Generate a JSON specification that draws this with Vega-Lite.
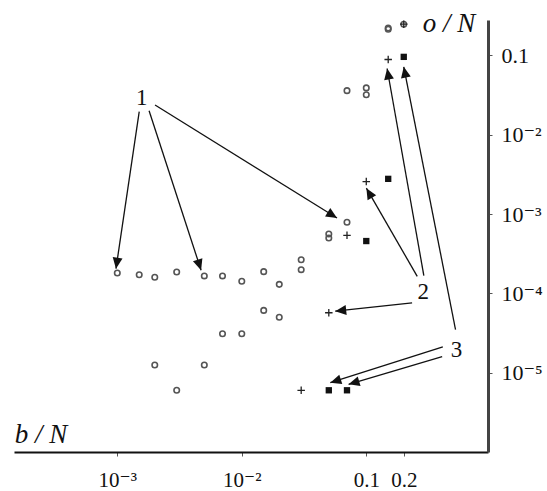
{
  "$schema": "https://vega.github.io/schema/vega-lite/v6.json",
  "width": 474,
  "height": 432,
  "autosize": "none",
  "padding": {"left": 14, "top": 20, "right": 59, "bottom": 39},
  "config": {
    "view": {"stroke": null},
    "font": "Liberation Serif",
    "axis": {"grid": false, "labelFont": "Liberation Serif, DejaVu Serif", "labelFontSize": 21, "labelColor": "#111", "tickColor": "#555", "tickSize": 4}
  },
  "datasets": {
    "points": [
      {"b": 0.001, "o": 0.000181, "kind": "circle"},
      {"b": 0.0015, "o": 0.000172, "kind": "circle"},
      {"b": 0.002, "o": 0.00016, "kind": "circle"},
      {"b": 0.003, "o": 0.000186, "kind": "circle"},
      {"b": 0.005, "o": 0.000166, "kind": "circle"},
      {"b": 0.007, "o": 0.000166, "kind": "circle"},
      {"b": 0.01, "o": 0.000142, "kind": "circle"},
      {"b": 0.015, "o": 0.000188, "kind": "circle"},
      {"b": 0.02, "o": 0.00013, "kind": "circle"},
      {"b": 0.03, "o": 0.000266, "kind": "circle"},
      {"b": 0.03, "o": 0.000199, "kind": "circle"},
      {"b": 0.015, "o": 0.000061, "kind": "circle"},
      {"b": 0.02, "o": 0.00005, "kind": "circle"},
      {"b": 0.007, "o": 0.000031, "kind": "circle"},
      {"b": 0.01, "o": 0.000031, "kind": "circle"},
      {"b": 0.002, "o": 0.0000125, "kind": "circle"},
      {"b": 0.005, "o": 0.0000125, "kind": "circle"},
      {"b": 0.003, "o": 0.000006, "kind": "circle"},
      {"b": 0.05, "o": 0.00056, "kind": "circle"},
      {"b": 0.05, "o": 0.0005, "kind": "circle"},
      {"b": 0.07, "o": 0.00079, "kind": "circle"},
      {"b": 0.07, "o": 0.036, "kind": "circle"},
      {"b": 0.1, "o": 0.039, "kind": "circle"},
      {"b": 0.1, "o": 0.032, "kind": "circle"},
      {"b": 0.15, "o": 0.214, "kind": "circle"},
      {"b": 0.15, "o": 0.222, "kind": "circle"},
      {"b": 0.03, "o": 0.000006, "kind": "plus"},
      {"b": 0.05, "o": 0.000057, "kind": "plus"},
      {"b": 0.07, "o": 0.00054, "kind": "plus"},
      {"b": 0.1, "o": 0.00257, "kind": "plus"},
      {"b": 0.15, "o": 0.089, "kind": "plus"},
      {"b": 0.2, "o": 0.248, "kind": "plus"},
      {"b": 0.2, "o": 0.248, "kind": "circle"},
      {"b": 0.05, "o": 0.000006, "kind": "square"},
      {"b": 0.07, "o": 0.000006, "kind": "square"},
      {"b": 0.1, "o": 0.000457, "kind": "square"},
      {"b": 0.15, "o": 0.00278, "kind": "square"},
      {"b": 0.2, "o": 0.096, "kind": "square"}
    ],
    "arrows": [
      {"label": "1", "b0": 0.0015, "o0": 0.0196, "b": 0.000976, "o": 0.000205},
      {"label": "1", "b0": 0.0018, "o0": 0.0201, "b": 0.00471, "o": 0.000196},
      {"label": "1", "b0": 0.00201, "o0": 0.0237, "b": 0.0582, "o": 0.000891},
      {"label": "2", "b0": 0.29, "o0": 0.0001675, "b": 0.147, "o": 0.0685},
      {"label": "2", "b0": 0.2566, "o0": 0.000164, "b": 0.1002, "o": 0.00212},
      {"label": "2", "b0": 0.2333, "o0": 0.000076, "b": 0.0563, "o": 0.0000596},
      {"label": "3", "b0": 0.521, "o0": 0.000035, "b": 0.2, "o": 0.072},
      {"label": "3", "b0": 0.412, "o0": 0.0000212, "b": 0.0514, "o": 0.00000748},
      {"label": "3", "b0": 0.407, "o0": 0.0000159, "b": 0.0721, "o": 0.00000713}
    ],
    "callouts": [
      {"text": "1", "b": 0.00157, "o": 0.0288},
      {"text": "2", "b": 0.2864, "o": 0.0001044},
      {"text": "3", "b": 0.531, "o": 0.0000196}
    ],
    "axisnames": [
      {"text": "b / N", "b": 0.00015, "o": 0.000001315},
      {"text": "o / N", "b": 0.284, "o": 0.198}
    ]
  },
  "encoding": {
    "x": {
      "field": "b", "type": "quantitative", "title": null,
      "scale": {"type": "log", "domain": [0.000148, 0.95], "nice": false},
      "axis": {
        "orient": "bottom", "values": [0.001, 0.01, 0.1, 0.2],
        "labelExpr": "datum.value < 0.005 ? '10⁻³' : datum.value < 0.05 ? '10⁻²' : datum.value < 0.15 ? '0.1' : '0.2'",
        "domainColor": "#111", "domainWidth": 2, "labelPadding": 13, "labelBaseline": "top"
      }
    },
    "y": {
      "field": "o", "type": "quantitative", "title": null,
      "scale": {"type": "log", "domain": [0.000001, 0.28], "nice": false},
      "axis": {
        "orient": "right", "values": [0.00001, 0.0001, 0.001, 0.01, 0.1],
        "labelExpr": "datum.value < 0.00005 ? '10⁻⁵' : datum.value < 0.0005 ? '10⁻⁴' : datum.value < 0.005 ? '10⁻³' : datum.value < 0.05 ? '10⁻²' : '0.1'",
        "domainColor": "#444", "domainWidth": 3, "labelPadding": 9, "labelFontSize": 22
      }
    }
  },
  "layer": [
    {
      "data": {"name": "points"},
      "transform": [{"filter": "datum.kind == 'circle'"}],
      "mark": {"type": "point", "shape": "circle", "filled": false, "stroke": "#555", "strokeWidth": 1.6, "size": 30, "opacity": 1}
    },
    {
      "data": {"name": "points"},
      "transform": [{"filter": "datum.kind == 'plus'"}],
      "mark": {"type": "point", "shape": "M-1,0L1,0M0,-1L0,1", "filled": false, "stroke": "#222", "strokeWidth": 1.3, "size": 56, "opacity": 1}
    },
    {
      "data": {"name": "points"},
      "transform": [{"filter": "datum.kind == 'square'"}],
      "mark": {"type": "point", "shape": "square", "filled": true, "fill": "#111", "size": 40, "opacity": 1}
    },
    {
      "data": {"name": "arrows"},
      "mark": {"type": "rule", "stroke": "#111", "strokeWidth": 1.3},
      "encoding": {
        "x": {"field": "b0", "type": "quantitative", "title": null},
        "y": {"field": "o0", "type": "quantitative", "title": null},
        "x2": {"field": "b"},
        "y2": {"field": "o"}
      }
    },
    {
      "data": {"name": "arrows"},
      "mark": {
        "type": "point", "shape": "M0,0L-0.9,2L0.9,2Z", "filled": true, "fill": "#111", "size": 121, "opacity": 1,
        "angle": {"expr": "atan2(scale('y', datum.o) - scale('y', datum.o0), scale('x', datum.b) - scale('x', datum.b0)) * 180 / PI + 90"}
      }
    },
    {
      "data": {"name": "callouts"},
      "mark": {"type": "text", "font": "Liberation Serif", "fontSize": 23, "align": "center", "baseline": "middle", "color": "#111"},
      "encoding": {"text": {"field": "text"}}
    },
    {
      "data": {"name": "axisnames"},
      "mark": {"type": "text", "font": "Liberation Serif", "fontSize": 27, "fontStyle": "italic", "align": "left", "baseline": "alphabetic", "color": "#111"},
      "encoding": {"text": {"field": "text"}}
    }
  ]
}
